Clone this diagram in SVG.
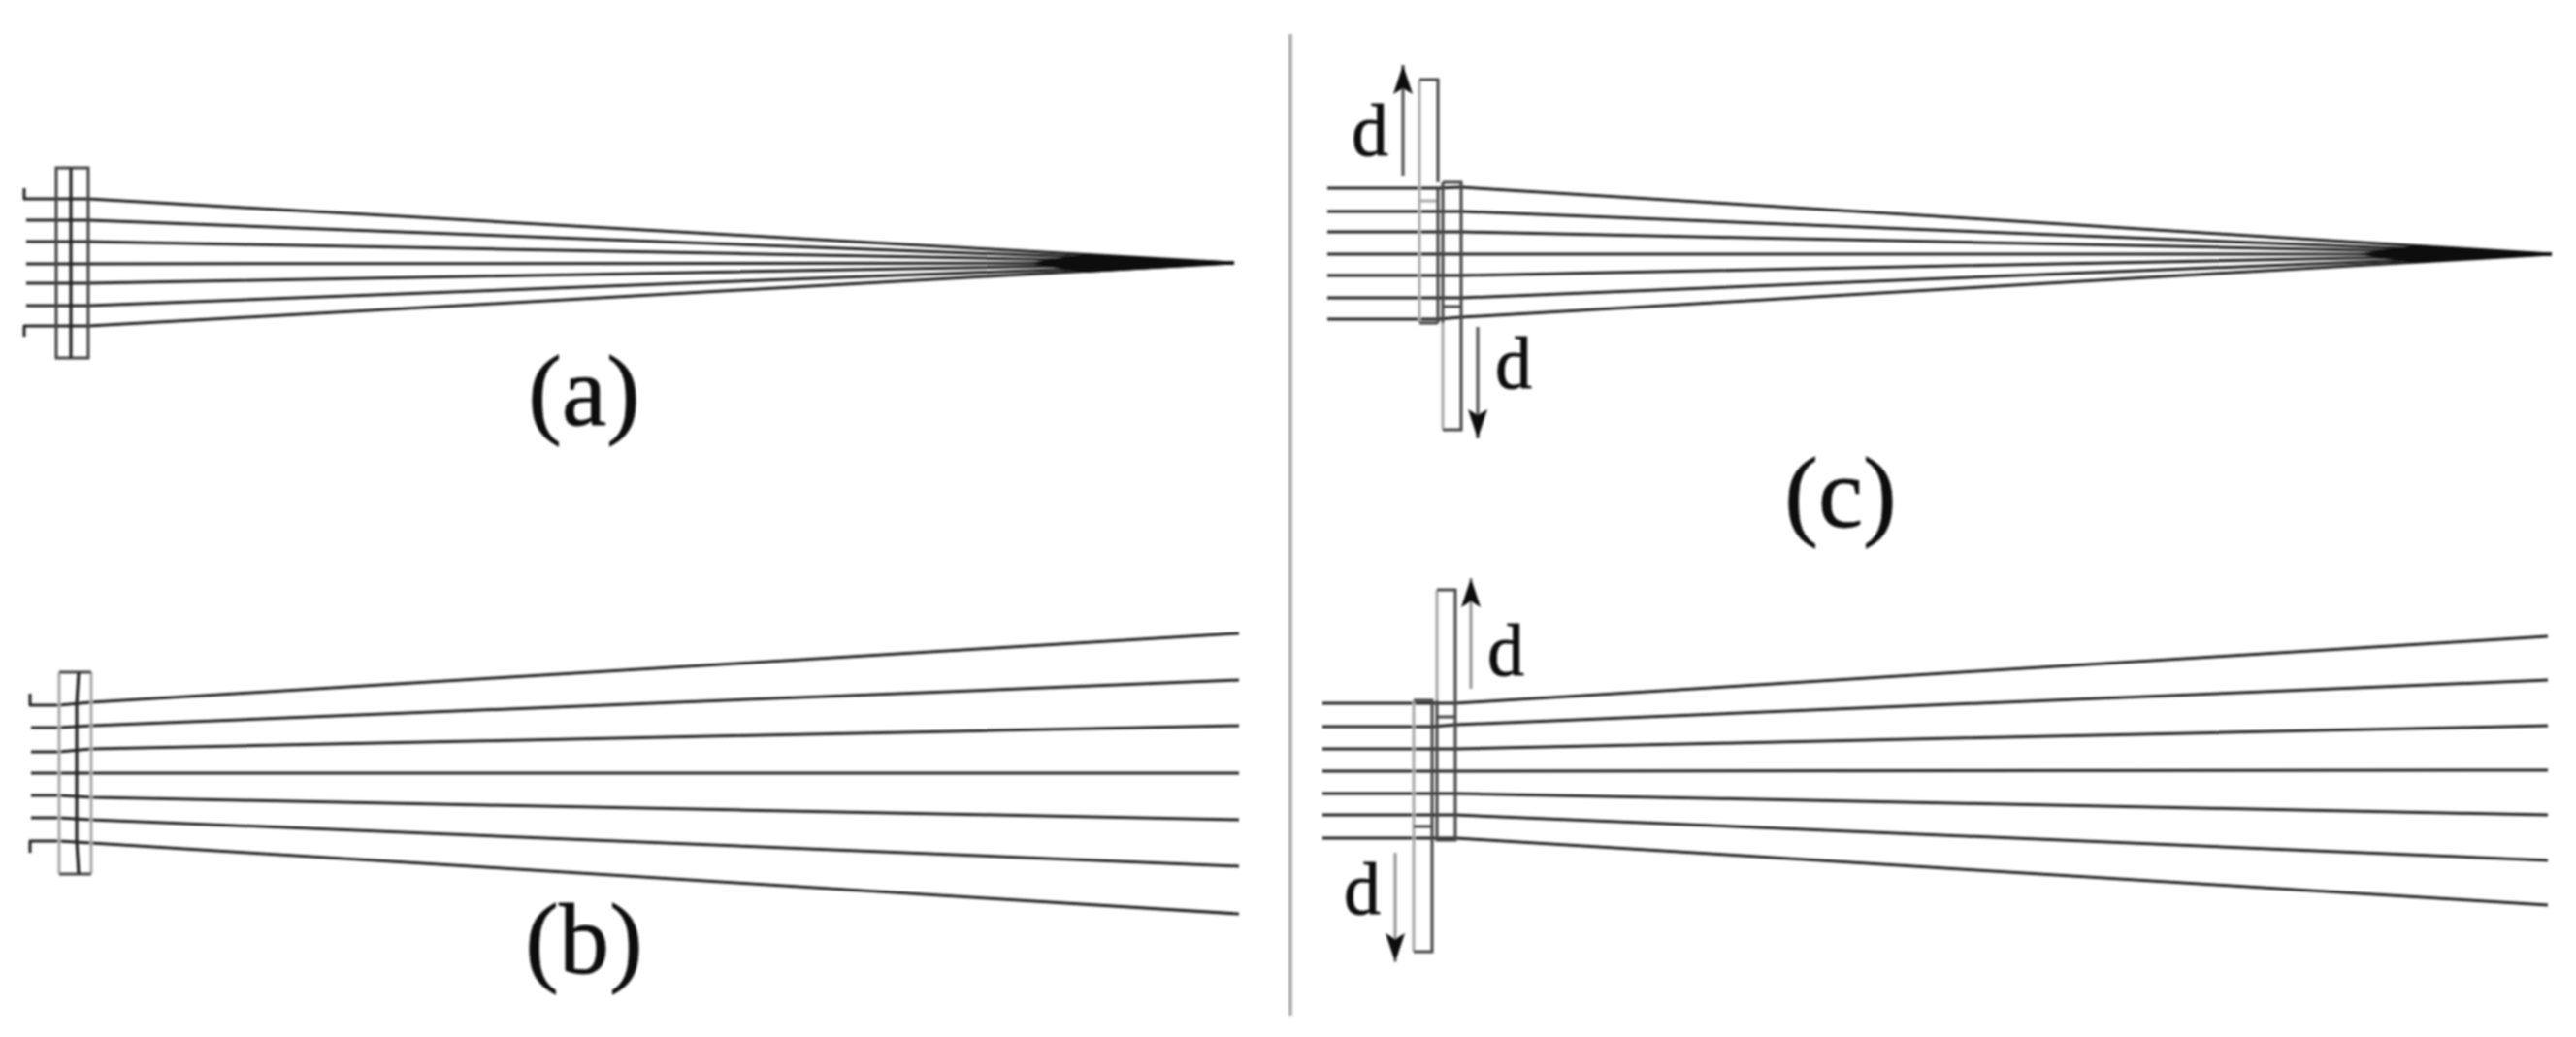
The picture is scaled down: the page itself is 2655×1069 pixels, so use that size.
<svg xmlns="http://www.w3.org/2000/svg" width="2655" height="1069" viewBox="0 0 2655 1069">
  <style>
    .ray { fill: none; stroke: #222; stroke-width: 3; stroke-linejoin: round; }
    .edge { fill: none; stroke: #444; stroke-width: 3; }
    .mid { fill: none; stroke: #222; stroke-width: 3.2; }
    .lite { fill: none; stroke: #a8a8a8; stroke-width: 3; }
    .arrow { fill: none; stroke: #555; stroke-width: 3.2; marker-end: url(#head); }
    .larrow { fill: none; stroke: #999; stroke-width: 3.2; marker-end: url(#head); }
    .sep { stroke: #b0b0b0; stroke-width: 4; }
    .wedge { fill: #0a0a0a; stroke: none; }
    text { font-family: "Liberation Serif", "Times New Roman", serif; fill: #111; stroke: #111; }
    .cap { font-size: 104px; text-anchor: middle; stroke-width: 0.8; }
    .d { font-size: 76px; stroke-width: 0.8; }
  </style>
  <defs>
    <filter id="soft" x="-2%" y="-2%" width="104%" height="104%"><feGaussianBlur stdDeviation="0.8"/></filter>
    <marker id="head" markerUnits="userSpaceOnUse" markerWidth="32" markerHeight="22" refX="30" refY="10" orient="auto">
      <path d="M0,0 L30,10 L0,20 L6,10 Z" fill="#111"/>
    </marker>
  </defs>
  <rect width="2655" height="1069" fill="#fff"/>
  <g filter="url(#soft)">
    <line id="separator" class="sep" x1="1330" y1="35" x2="1330" y2="1047"/>

    <g id="connectors">
      <g id="rays-a">
        <path class="ray" d="M25,194 V205 H91 L1272,271"/>
        <path class="ray" d="M27,227 H91 L1272,271"/>
        <path class="ray" d="M27,249 H91 L1272,271"/>
        <path class="ray" d="M27,272 H91 L1272,271"/>
        <path class="ray" d="M27,292 H91 L1272,271"/>
        <path class="ray" d="M27,315 H91 L1272,271"/>
        <path class="ray" d="M25,347 V336 H91 L1272,271"/>
        <path class="wedge" d="M1060,271 L1120,262 L1272,270 V272 L1120,281 Z"/>
      </g>
      <g id="rays-b">
        <path class="ray" d="M31,715 V727 H61 L94,724 L1277,653"/>
        <path class="ray" d="M32,750 H61 L94,748 L1277,701"/>
        <path class="ray" d="M32,775 H61 L94,772 L1277,748"/>
        <path class="ray" d="M32,797 H1277"/>
        <path class="ray" d="M32,820 H61 L94,822 L1277,845"/>
        <path class="ray" d="M32,843 H61 L94,845 L1277,893"/>
        <path class="ray" d="M31,879 V867 H61 L94,869 L1277,942"/>
      </g>
      <g id="rays-c">
        <path class="ray" d="M1368,194 H1482 L1506,193 L2630,262"/>
        <path class="ray" d="M1368,218 H1506 L2630,262"/>
        <path class="ray" d="M1368,239 H1506 L2630,262"/>
        <path class="ray" d="M1368,262 H1506 L2630,262"/>
        <path class="ray" d="M1368,284 H1506 L2630,262"/>
        <path class="ray" d="M1368,307 H1506 L2630,262"/>
        <path class="ray" d="M1368,329 H1482 L1506,327 L2630,262"/>
        <path class="wedge" d="M2430,262 L2490,253 L2630,261 V263 L2490,271 Z"/>
      </g>
      <g id="rays-d">
        <path class="ray" d="M1363,725 H1500 L2626,656"/>
        <path class="ray" d="M1363,749 H1476 L1500,747 L2626,701"/>
        <path class="ray" d="M1363,772 H1500 L2626,748"/>
        <path class="ray" d="M1363,795 H1500 L2626,794"/>
        <path class="ray" d="M1363,818 H1500 L2626,840"/>
        <path class="ray" d="M1363,840 H1500 L2626,887"/>
        <path class="ray" d="M1363,864 H1500 L2626,933"/>
      </g>
      <line id="arrow-c-up" class="arrow" x1="1446" y1="181" x2="1446" y2="67"/>
      <line id="arrow-c-down" class="arrow" x1="1523" y1="337" x2="1523" y2="452"/>
      <line id="arrow-d-up" class="larrow" x1="1516" y1="710" x2="1516" y2="596"/>
      <line id="arrow-d-down" class="larrow" x1="1438" y1="879" x2="1438" y2="992"/>
    </g>

    <g id="plates-a">
      <path class="edge" d="M73,173 H58 V369 H91 V173 H73"/>
      <line class="mid" x1="73" y1="173" x2="73" y2="369"/>
    </g>
    <g id="plates-b">
      <path class="lite" d="M61,693 V901"/>
      <path class="lite" d="M94,693 V901"/>
      <path class="edge" d="M61,693 H94 M61,901 H94"/>
      <path class="mid" d="M81,693 L79,725 V867 L81,901"/>
    </g>
    <g id="plates-c">
      <path class="lite" d="M1463,82 V333"/>
      <path class="edge" d="M1463,82 H1482 V188 M1463,333 H1482"/>
      <line class="lite" x1="1463" y1="207" x2="1481" y2="207"/>
      <line class="edge" x1="1482" y1="194" x2="1482" y2="333"/>
      <path class="lite" d="M1487,333 V443"/>
      <path class="edge" d="M1487,188 H1506 V443 H1487 M1487,188 V333"/>
      <line class="edge" x1="1487" y1="316" x2="1505" y2="316"/>
    </g>
    <g id="plates-d">
      <path class="lite" d="M1481,608 V722"/>
      <path class="edge" d="M1481,608 H1500 V866 H1481 V722"/>
      <line class="edge" x1="1481" y1="739" x2="1499" y2="739"/>
      <path class="lite" d="M1457,722 V981"/>
      <path class="edge" d="M1457,722 H1476 V981 H1457"/>
      <line class="edge" x1="1457" y1="852" x2="1475" y2="852"/>
    </g>

    <g id="labels">
      <text class="cap" x="602" y="438">(a)</text>
      <text class="cap" x="602" y="1003">(b)</text>
      <text class="cap" x="1897" y="543">(c)</text>
      <text class="d" x="1393" y="160">d</text>
      <text class="d" x="1541" y="400">d</text>
      <text class="d" x="1533" y="696">d</text>
      <text class="d" x="1385" y="942">d</text>
    </g>
  </g>
</svg>
